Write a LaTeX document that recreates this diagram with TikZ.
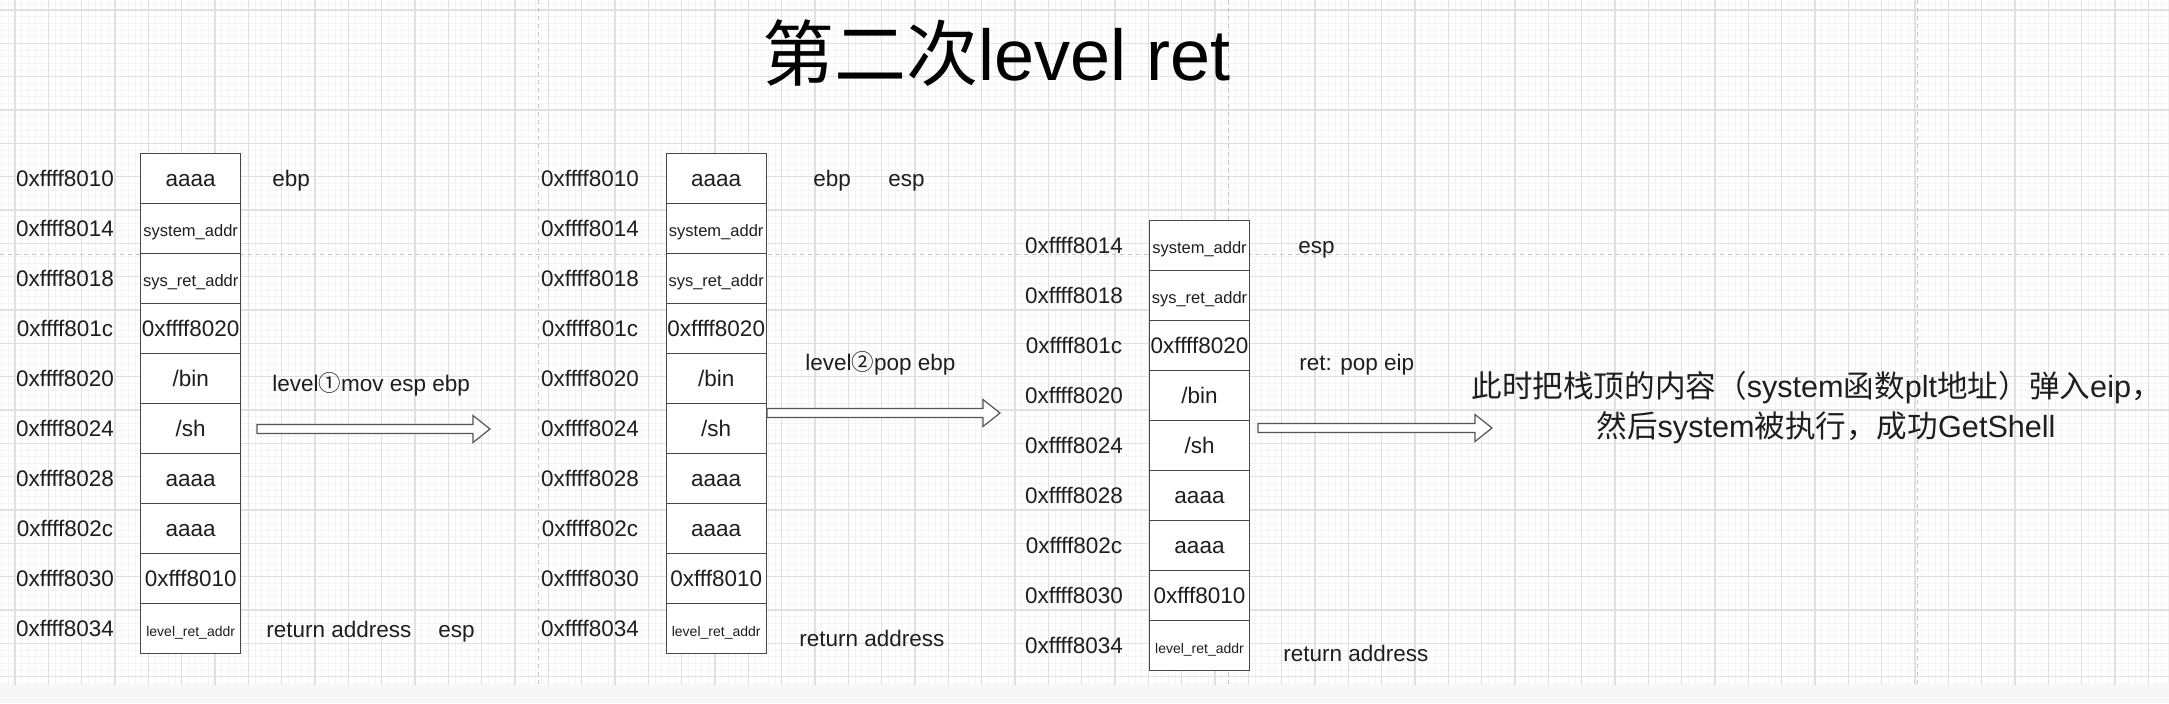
\documentclass[tikz,border=0pt]{standalone}
\usepackage{fontspec}
\setmainfont{Liberation Sans}
\newfontfamily\cjk{Noto Sans CJK SC}
\usetikzlibrary{calc}
\newcommand\zh[1]{{\cjk #1}}
\newcommand\fslash{/}
\definecolor{gridmaj}{HTML}{E0E0E0}
\definecolor{gridmin}{HTML}{F4F4F4}
\definecolor{pagebrk}{HTML}{C4C4C4}
\definecolor{ink}{HTML}{1E1E1E}
\definecolor{boxline}{HTML}{484848}
\definecolor{arrowline}{HTML}{555555}
\definecolor{footer}{HTML}{F7F7F7}
\newcommand\fatarrow[2]{%
  \draw[fatarr] ($(#1)+(0,-4.5)$) -- ($(#2)+(-17,-4.5)$) -- ($(#2)+(-17,-13.5)$) -- (#2)
    -- ($(#2)+(-17,13.5)$) -- ($(#2)+(-17,4.5)$) -- ($(#1)+(0,4.5)$) -- cycle;}
\tikzset{
  cell/.style={draw=boxline, line width=0.7pt, fill=white, minimum width=50pt, minimum height=25pt,
    inner sep=0pt, text height=8pt, text depth=0pt, text=ink},
  cbig/.style={font=\fontsize{11.25}{13}\selectfont},
  csmall/.style={font=\fontsize{8.25}{10}\selectfont},
  ctiny/.style={font=\fontsize{7}{8}\selectfont},
  addr/.style={font=\fontsize{11.25}{13}\selectfont, text=ink, inner sep=0pt, text height=8pt, text depth=0pt},
  lbl/.style={font=\fontsize{11.25}{13}\selectfont, text=ink, inner sep=0pt, anchor=base west},
  msg/.style={font=\fontsize{15.3}{18}\selectfont, text=ink, inner sep=0pt},
  fatarr/.style={draw=arrowline, fill=white, line width=0.6pt, line join=miter},
  pagebreak/.style={draw=pagebrk, line width=0.5pt, dash pattern=on 2pt off 2pt}
}
\begin{document}
\begin{tikzpicture}[x=0.5pt,y=-0.5pt]
\useasboundingbox (0,0) rectangle (2169,703);
\fill[white] (0,0) rectangle (2169,703);
\fill[footer] (0,685) rectangle (2169,703);
% grid
\foreach \k in {-2,...,323} \draw[gridmin, line width=0.5pt] ({15+6.66667*\k},0) -- ({15+6.66667*\k},685);
\foreach \k in {-1,...,101} \draw[gridmin, line width=0.5pt] (0,{10+6.66667*\k}) -- (2169,{10+6.66667*\k});
\foreach \k in {0,...,64} \draw[gridmaj, line width=0.7pt] ({15+33.3333*\k},0) -- ({15+33.3333*\k},685);
\foreach \k in {0,...,20} \draw[gridmaj, line width=0.7pt] (0,{10+33.3333*\k}) -- (2169,{10+33.3333*\k});
% page breaks
\foreach \px in {538,1228,1917} \draw[pagebreak] (\px,0) -- (\px,685);
\draw[pagebreak] (0,254) -- (2169,254);

% title
\node[anchor=base west, inner sep=0pt, text=black, font=\fontsize{36}{40}\selectfont] (title) at (762,80) {\zh{第二次}level ret};

% stack 1
\foreach \v/\f/\a [count=\k from 0] in {aaaa/cbig/0xffff8010, system\_addr/csmall/0xffff8014,
  sys\_ret\_addr/csmall/0xffff8018, 0xffff8020/cbig/0xffff801c, \fslash bin/cbig/0xffff8020, \fslash sh/cbig/0xffff8024,
  aaaa/cbig/0xffff8028, aaaa/cbig/0xffff802c, 0xfff8010/cbig/0xffff8030, level\_ret\_addr/ctiny/0xffff8034}{
  \node[cell,\f] (s1c\k) at (190.7,{178.3+50*\k}) {\v};
  \node[addr] (s1a\k) at (65,{178.3+50*\k}) {\a};
}
% stack 2
\foreach \v/\f/\a [count=\k from 0] in {aaaa/cbig/0xffff8010, system\_addr/csmall/0xffff8014,
  sys\_ret\_addr/csmall/0xffff8018, 0xffff8020/cbig/0xffff801c, \fslash bin/cbig/0xffff8020, \fslash sh/cbig/0xffff8024,
  aaaa/cbig/0xffff8028, aaaa/cbig/0xffff802c, 0xfff8010/cbig/0xffff8030, level\_ret\_addr/ctiny/0xffff8034}{
  \node[cell,\f] (s2c\k) at (716.2,{178.3+50*\k}) {\v};
  \node[addr] (s2a\k) at (590,{178.3+50*\k}) {\a};
}
% stack 3
\foreach \v/\f/\a [count=\k from 0] in {system\_addr/csmall/0xffff8014,
  sys\_ret\_addr/csmall/0xffff8018, 0xffff8020/cbig/0xffff801c, \fslash bin/cbig/0xffff8020, \fslash sh/cbig/0xffff8024,
  aaaa/cbig/0xffff8028, aaaa/cbig/0xffff802c, 0xfff8010/cbig/0xffff8030, level\_ret\_addr/ctiny/0xffff8034}{
  \node[cell,\f] (s3c\k) at (1199.5,{245.7+50*\k}) {\v};
  \node[addr] (s3a\k) at (1074,{245.7+50*\k}) {\a};
}

% labels
\node[lbl] (s1ebp) at (272,186.3) {ebp};
\node[lbl] (s1op) at (272,391.7) {level\zh{①}mov esp ebp};
\node[lbl] (s1ret) at (266,637.3) {return address};
\node[lbl] (s1esp) at (438,637.3) {esp};
\node[lbl] (s2ebp) at (813,186.3) {ebp};
\node[lbl] (s2esp) at (888,186.3) {esp};
\node[lbl] (s2op) at (805,370) {level\zh{②}pop ebp};
\node[lbl] (s2ret) at (799,646) {return address};
\node[lbl] (s3esp) at (1298,253.7) {esp};
\node[lbl] (s3op) at (1299,370) {ret: pop eip};
\node[lbl] (s3ret) at (1283,661.7) {return address};

% message
\node[msg, anchor=base west] (msg1) at (1471,397) {\zh{此时把栈顶的内容（}system\zh{函数}plt\zh{地址）弹入}eip\zh{，}};
\node[msg, anchor=base] (msg2) at (1826,437) {\zh{然后}system\zh{被执行，成功}GetShell};

% arrows
\coordinate (a1s) at (257,429);
\coordinate (a1e) at (490,429);
\coordinate (a2s) at (767,413);
\coordinate (a2e) at (1000,413);
\coordinate (a3s) at (1258,428);
\coordinate (a3e) at (1492,428);
\fatarrow{a1s}{a1e}
\fatarrow{a2s}{a2e}
\fatarrow{a3s}{a3e}
\end{tikzpicture}
\end{document}
